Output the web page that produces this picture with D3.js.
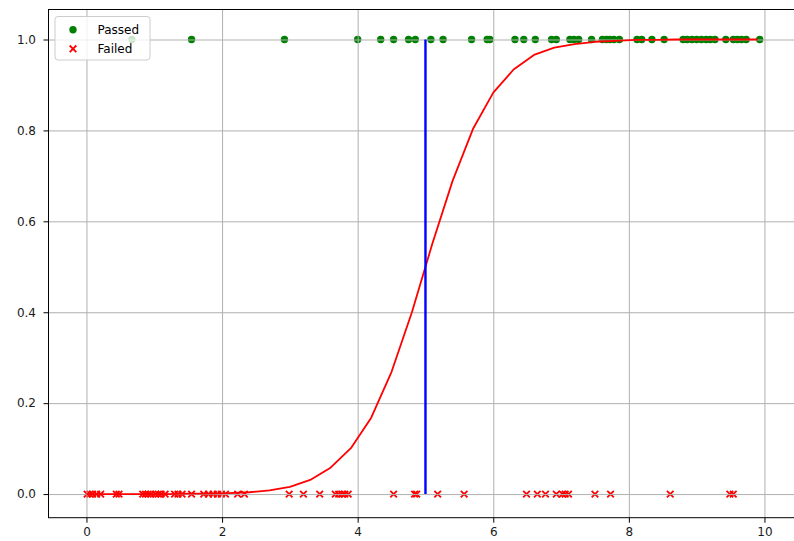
<!DOCTYPE html>
<html>
<head>
<meta charset="utf-8">
<script src="https://cdn.jsdelivr.net/npm/d3@7"></script>
<style>
  html, body { margin: 0; padding: 0; background: #fff; }
  svg { display: block; }
  text { font-family: "DejaVu Sans", sans-serif; }
</style>
</head>
<body>
<svg id="chart" width="794" height="541"></svg>
<script>
// ---- Data ----
const passedX = [0.67, 1.55, 2.92, 4.0, 4.34, 4.53, 4.75, 4.85, 5.08, 5.26, 5.68, 5.91, 5.95,
  6.32, 6.45, 6.62, 6.86, 6.93, 7.13, 7.19, 7.26, 7.45, 7.61, 7.67, 7.72, 7.78, 7.86,
  8.12, 8.19, 8.34, 8.52, 8.80, 8.86, 8.93, 9.00, 9.07, 9.14, 9.20, 9.27, 9.43,
  9.54, 9.60, 9.66, 9.73, 9.93];
const failedX = [0.01, 0.05, 0.09, 0.15, 0.21, 0.44, 0.48, 0.83, 0.87, 0.91, 0.95, 1.02,
  1.06, 1.10, 1.16, 1.30, 1.35, 1.41, 1.55, 1.73, 1.80, 1.87, 1.93, 1.99, 2.05, 2.23,
  2.33, 2.99, 3.20, 3.44, 3.67, 3.72, 3.77, 3.81, 3.86, 4.53, 4.84, 4.87, 5.18, 5.57,
  6.49, 6.65, 6.77, 6.93, 7.02, 7.06, 7.11, 7.50, 7.73, 8.61, 9.49, 9.54];
const curveX = [0, 0.3, 0.6, 0.9, 1.2, 1.5, 1.8, 2.1, 2.4, 2.7, 3.0, 3.3, 3.6, 3.9, 4.2,
  4.5, 4.8, 5.1, 5.4, 5.7, 6.0, 6.3, 6.6, 6.9, 7.2, 7.5, 7.8, 8.1, 8.4, 8.7, 9.0, 9.3,
  9.6, 9.9];
const curveY = [0.000, 0.000, 0.000, 0.000, 0.000, 0.001, 0.001, 0.002, 0.004, 0.008,
  0.016, 0.031, 0.058, 0.101, 0.168, 0.269, 0.400, 0.550, 0.689, 0.803, 0.883, 0.934,
  0.966, 0.982, 0.990, 0.995, 0.997, 0.999, 0.999, 1.0, 1.0, 1.0, 1.0, 1.0];
const boundaryX = [5, 5];
const boundaryY = [0, 1];
const xTicks = [0, 2, 4, 6, 8, 10];
const yTicks = [0.0, 0.2, 0.4, 0.6, 0.8, 1.0];
const legendLabels = ["Passed", "Failed"];

// ---- Layout ----
const svg = d3.select("#chart");
const L = 48.5, R = 795, T = 9.5, B = 517.7;
const x = d3.scaleLinear().domain([-0.56, 10.44]).range([L, 794.3]);
const y = d3.scaleLinear().domain([-0.052, 1.066]).range([B, T]);

svg.append("defs").append("clipPath").attr("id", "clip")
  .append("rect").attr("x", L).attr("y", T).attr("width", R - L).attr("height", B - T);

const plot = svg.append("g").attr("clip-path", "url(#clip)");

// scatter (below grid, like matplotlib collections)
plot.append("g").selectAll("circle").data(passedX).join("circle")
  .attr("cx", d => x(d)).attr("cy", y(1)).attr("r", 3.7)
  .attr("fill", "#008000");

const xs = 3.3;
plot.append("g").selectAll("path").data(failedX).join("path")
  .attr("d", d => {
    const cx = x(d), cy = y(0);
    return `M${cx - xs},${cy - xs}L${cx + xs},${cy + xs}M${cx - xs},${cy + xs}L${cx + xs},${cy - xs}`;
  })
  .attr("stroke", "#ff0000").attr("stroke-width", 1.8).attr("fill", "none");

// grid
const gridG = plot.append("g");
gridG.append("g").attr("transform", `translate(0,${B})`)
  .call(d3.axisBottom(x).tickValues(xTicks).tickSize(-(B - T)).tickFormat(""))
  .call(g => g.select(".domain").remove())
  .call(g => g.selectAll("line").attr("stroke", "#b0b0b0").attr("stroke-width", 1));
gridG.append("g").attr("transform", `translate(${L},0)`)
  .call(d3.axisLeft(y).tickValues(yTicks).tickSize(-(R - L)).tickFormat(""))
  .call(g => g.select(".domain").remove())
  .call(g => g.selectAll("line").attr("stroke", "#b0b0b0").attr("stroke-width", 1));

// curve
const line = d3.line().x(d => x(d[0])).y(d => y(d[1]));
plot.append("path")
  .datum(curveX.map((v, i) => [v, curveY[i]]))
  .attr("d", line)
  .attr("fill", "none").attr("stroke", "#ff0000").attr("stroke-width", 1.8)
  .attr("stroke-linejoin", "round");

// boundary
plot.append("path")
  .datum(boundaryX.map((v, i) => [v, boundaryY[i]]))
  .attr("d", line)
  .attr("fill", "none").attr("stroke", "#0000ff").attr("stroke-width", 2.4);

// axes
const xAxis = svg.append("g").attr("transform", `translate(0,${B})`)
  .call(d3.axisBottom(x).tickValues(xTicks).tickSize(5).tickPadding(5).tickFormat(d3.format("d")));
const yAxis = svg.append("g").attr("transform", `translate(${L},0)`)
  .call(d3.axisLeft(y).tickValues(yTicks).tickSize(5).tickPadding(7.5).tickFormat(d3.format(".1f")));
[xAxis, yAxis].forEach(a => {
  a.select(".domain").remove();
  a.selectAll("line").attr("stroke", "#000").attr("stroke-width", 1);
  a.selectAll("text").attr("font-size", 12).attr("fill", "#1a1a1a")
    .attr("font-family", "DejaVu Sans, sans-serif");
});

// spines
svg.append("rect").attr("x", L).attr("y", T).attr("width", R - L).attr("height", B - T)
  .attr("fill", "none").attr("stroke", "#000").attr("stroke-width", 1);

// legend
const lg = svg.append("g");
lg.append("rect").attr("x", 55).attr("y", 16.5).attr("width", 95).attr("height", 43.5)
  .attr("rx", 3).attr("fill", "#fff").attr("fill-opacity", 0.8)
  .attr("stroke", "#cccccc").attr("stroke-width", 1);
const rowY = [29.7, 48.8];
lg.append("circle").attr("cx", 73).attr("cy", rowY[0]).attr("r", 3.7).attr("fill", "#008000");
lg.append("path")
  .attr("d", `M${73 - xs},${rowY[1] - xs}L${73 + xs},${rowY[1] + xs}M${73 - xs},${rowY[1] + xs}L${73 + xs},${rowY[1] - xs}`)
  .attr("stroke", "#ff0000").attr("stroke-width", 1.8);
lg.selectAll("text.lab").data(legendLabels).join("text")
  .attr("class", "lab")
  .attr("x", 97.5).attr("y", (d, i) => rowY[i]).attr("dy", "0.36em")
  .attr("font-size", 12).attr("fill", "#000").text(d => d);
</script>
</body>
</html>
